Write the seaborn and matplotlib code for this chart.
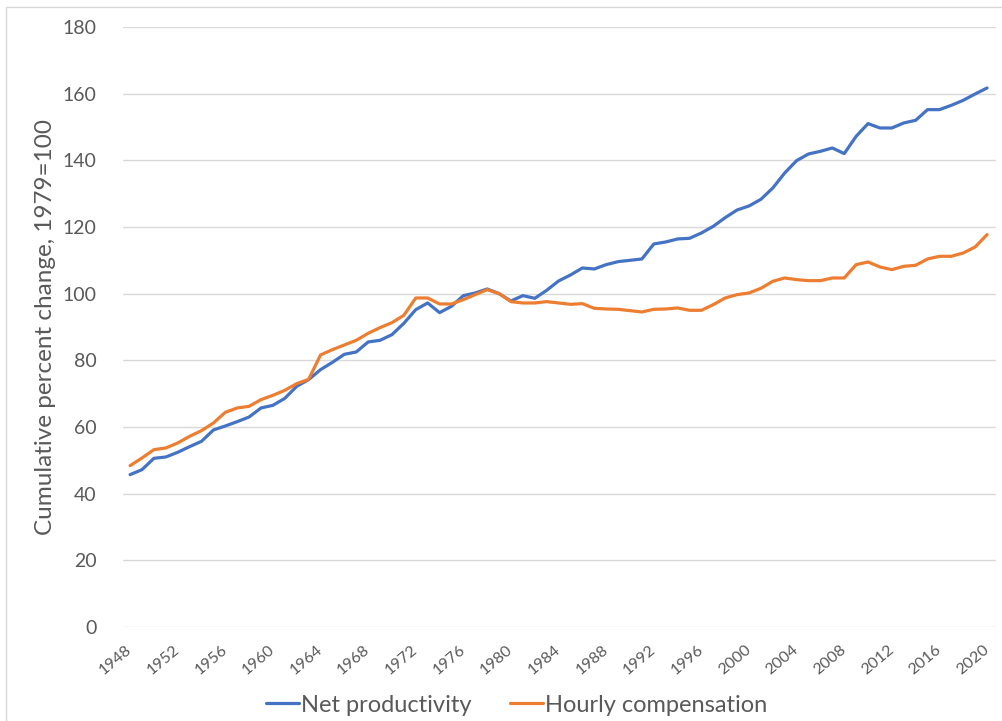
import numpy as np
import pandas as pd
import matplotlib.pyplot as plt
import seaborn as sns
from matplotlib.lines import Line2D

years = list(range(1948, 2021))

net_productivity = [
    45.7, 47.2, 50.6, 51.0, 52.4, 54.1, 55.7, 59.1, 60.3, 61.6,
    63.0, 65.7, 66.5, 68.6, 72.2, 74.2, 77.2, 79.4, 81.8, 82.5,
    85.5, 86.0, 87.7, 91.1, 95.2, 97.2, 94.3, 96.2, 99.4, 100.2,
    101.4, 100.0, 97.8, 99.4, 98.6, 101.0, 103.8, 105.6, 107.7, 107.4,
    108.7, 109.6, 110.0, 110.4, 114.9, 115.5, 116.4, 116.6, 118.2, 120.2,
    122.8, 125.1, 126.3, 128.3, 131.7, 136.2, 139.9, 141.9, 142.7, 143.7,
    142.0, 147.2, 151.0, 149.7, 149.7, 151.2, 152.0, 155.2, 155.2, 156.5,
    158.0, 159.9, 161.7,
]

hourly_compensation = [
    48.4, 50.7, 53.2, 53.7, 55.2, 57.2, 58.9, 61.2, 64.4, 65.7,
    66.2, 68.2, 69.5, 71.0, 73.0, 74.3, 81.6, 83.2, 84.6, 86.0,
    88.1, 89.8, 91.3, 93.5, 98.7, 98.7, 96.9, 96.9, 98.2, 99.7,
    101.2, 100.0, 97.6, 97.2, 97.2, 97.6, 97.2, 96.8, 97.0, 95.6,
    95.4, 95.3, 94.9, 94.5, 95.3, 95.4, 95.7, 95.0, 95.0, 96.7,
    98.7, 99.7, 100.2, 101.6, 103.7, 104.7, 104.2, 103.9, 103.9, 104.7,
    104.7, 108.7, 109.5, 108.0, 107.2, 108.2, 108.5, 110.4, 111.2, 111.2,
    112.2, 114.0, 117.7,
]

series_names = ["Net productivity", "Hourly compensation"]
series_colors = ["#4472C4", "#ED7D31"]
tick_years = list(range(1948, 2021, 4))
y_ticks = list(range(0, 181, 20))

df = pd.DataFrame({
    "year": years * 2,
    "value": net_productivity + hourly_compensation,
    "series": [series_names[0]] * len(years) + [series_names[1]] * len(years),
})

sns.set_style("white")
plt.rcParams["font.family"] = ["Lato", "DejaVu Sans"]

fig = plt.figure(figsize=(10.03, 7.21), dpi=100)
ax = fig.add_axes([0.1226, 0.1304, 0.8704, 0.8322])

sns.lineplot(data=df, x="year", y="value", hue="series",
             palette=dict(zip(series_names, series_colors)),
             linewidth=2.3, ax=ax, legend=False)

ax.set_xlim(1947.4, 2020.75)
ax.set_ylim(0, 180)
ax.set_yticks(y_ticks)
ax.set_xticks(tick_years)
ax.set_xticklabels([str(y) for y in tick_years], rotation=40, ha="right",
                   va="center", rotation_mode="anchor")
ax.tick_params(axis="x", length=0, pad=15, labelsize=11.5, labelcolor="#595959")
ax.tick_params(axis="y", length=0, pad=19, labelsize=14, labelcolor="#595959")
ax.yaxis.grid(True, color="#D9D9D9", linewidth=1.0)
ax.set_axisbelow(True)
for s in ax.spines.values():
    s.set_visible(False)

ax.set_xlabel("")
ax.set_ylabel("Cumulative percent change, 1979=100", fontsize=17.5,
              color="#595959", labelpad=5)

# chart area border (top and left edges visible in the crop)
fig.add_artist(Line2D([6 / 1003, 6 / 1003], [0, 1 - 7 / 721],
                      transform=fig.transFigure, color="#D9D9D9", linewidth=1))
fig.add_artist(Line2D([6 / 1003, 1], [1 - 7 / 721, 1 - 7 / 721],
                      transform=fig.transFigure, color="#D9D9D9", linewidth=1))

handles = [Line2D([0], [0], color=c, linewidth=2.3) for c in series_colors]
fig.legend(handles, series_names, loc="center", bbox_to_anchor=(0.515, 0.022),
           ncol=2, frameon=False, fontsize=17, handlelength=1.4,
           handletextpad=0.1, columnspacing=1.6, labelcolor="#595959")

fig.savefig("out.png", dpi=100)
